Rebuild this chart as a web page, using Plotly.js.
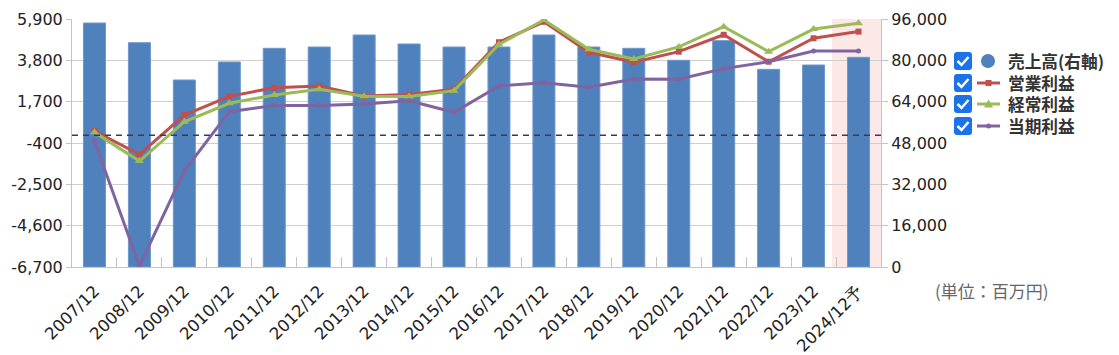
<!DOCTYPE html>
<html>
<head>
<meta charset="utf-8">
<script src="https://cdn.plot.ly/plotly-3.0.1.min.js"></script>
<style>html,body{margin:0;padding:0;background:#fff;}#chart{width:1119px;height:355px;}</style>
</head>
<body>
<div id="chart"></div>
<script>
// ---- data ----
const categories = ['2007/12','2008/12','2009/12','2010/12','2011/12','2012/12','2013/12','2014/12','2015/12','2016/12','2017/12','2018/12','2019/12','2020/12','2021/12','2022/12','2023/12','2024/12予'];
const sales      = [94450, 86830, 72390, 79360, 84650, 85160, 89810, 86320, 85160, 85160, 89810, 85160, 84650, 80010, 87610, 76520, 78190, 81160];
const opProfit   = [210, -980, 1020, 1970, 2410, 2500, 1990, 2070, 2330, 4720, 5760, 4210, 3700, 4240, 5100, 3730, 4920, 5260];
const ordProfit  = [140, -1320, 680, 1620, 2040, 2330, 1970, 1960, 2260, 4610, 5850, 4360, 3870, 4480, 5510, 4240, 5390, 5680];
const netProfit  = [-300, -6650, -1810, 1190, 1500, 1510, 1580, 1750, 1160, 2500, 2660, 2430, 2850, 2840, 3380, 3730, 4270, 4270];
const seriesNames = ['売上高(右軸)', '営業利益', '経常利益', '当期利益'];
const leftTickVals = [-6700, -4600, -2500, -400, 1700, 3800, 5900];
const leftTickText = ['-6,700', '-4,600', '-2,500', '-400', '1,700', '3,800', '5,900'];
const rightTickVals = [0, 16000, 32000, 48000, 64000, 80000, 96000];
const rightTickText = ['0', '16,000', '32,000', '48,000', '64,000', '80,000', '96,000'];
const unitLabel = '(単位：百万円)';

// ---- styling ----
const C_BAR = '#4f81bd', C_OP = '#c0504d', C_ORD = '#9bbb59', C_NET = '#8064a2';
const AX = '#c4c4c4';
const W = 1119, H = 355, L = 72, R = 881, T = 19, B = 267;
const px = x => (x - L) / (R - L);
const py = y => (B - y) / (B - T);

const traces = [
  {type: 'bar', x: categories, y: sales, xaxis: 'x', yaxis: 'y', name: seriesNames[0],
   marker: {color: C_BAR, line: {color: '#6f97cb', width: 1}}, width: 0.49, showlegend: false, hoverinfo: 'skip'},
  {type: 'scatter', mode: 'lines+markers', x: categories, y: opProfit, xaxis: 'x', yaxis: 'y2', name: seriesNames[1],
   line: {color: C_OP, width: 3}, marker: {symbol: 'square', size: 6, color: C_OP}, showlegend: false},
  {type: 'scatter', mode: 'lines+markers', x: categories, y: ordProfit, xaxis: 'x', yaxis: 'y2', name: seriesNames[2],
   line: {color: C_ORD, width: 3}, marker: {symbol: 'triangle-up', size: 8, color: C_ORD}, showlegend: false},
  {type: 'scatter', mode: 'lines+markers', x: categories, y: netProfit, xaxis: 'x', yaxis: 'y2', name: seriesNames[3],
   line: {color: C_NET, width: 3}, marker: {symbol: 'circle', size: 5, color: C_NET}, showlegend: false}
];

function rrect(x0, y0, x1, y1, r) {
  const p = (x, y) => px(x) + ',' + py(y);
  return 'M' + p(x0 + r, y0) + ' L' + p(x1 - r, y0) + ' Q' + p(x1, y0) + ' ' + p(x1, y0 + r) +
         ' L' + p(x1, y1 - r) + ' Q' + p(x1, y1) + ' ' + p(x1 - r, y1) +
         ' L' + p(x0 + r, y1) + ' Q' + p(x0, y1) + ' ' + p(x0, y1 - r) +
         ' L' + p(x0, y0 + r) + ' Q' + p(x0, y0) + ' ' + p(x0 + r, y0) + ' Z';
}

const shapes = [
  {type: 'rect', xref: 'paper', yref: 'paper', x0: px(832), x1: 1, y0: 0, y1: 1, fillcolor: '#fde8e8', line: {width: 0}, layer: 'below'},
  {type: 'line', xref: 'paper', yref: 'y2', x0: 0, x1: 1, y0: 0, y1: 0, line: {color: '#3d3659', width: 1.5, dash: '6px,5px'}}
];
const annotations = [
  {xref: 'paper', yref: 'paper', x: px(992), y: py(290), text: unitLabel, showarrow: false,
   xanchor: 'center', yanchor: 'middle', font: {family: 'Noto Sans CJK JP', size: 17, color: '#666'}}
];

const rows = [61, 83, 104, 126];
const legColors = [C_BAR, C_OP, C_ORD, C_NET];
rows.forEach((ry, i) => {
  // checkbox
  shapes.push({type: 'path', xref: 'paper', yref: 'paper', path: rrect(954, ry - 9, 972, ry + 9, 3),
               fillcolor: '#1a73e8', line: {width: 0}});
  shapes.push({type: 'path', xref: 'paper', yref: 'paper',
               path: 'M' + px(957.5) + ',' + py(ry) + ' L' + px(961.5) + ',' + py(ry + 4) + ' L' + px(968.5) + ',' + py(ry - 4),
               line: {color: '#ffffff', width: 2.5}});
  // symbol
  if (i === 0) {
    shapes.push({type: 'circle', xref: 'paper', yref: 'paper', x0: px(981), x1: px(995), y0: py(ry + 7), y1: py(ry - 7),
                 fillcolor: C_BAR, line: {width: 0}});
  } else {
    shapes.push({type: 'line', xref: 'paper', yref: 'paper', x0: px(977), x1: px(1000), y0: py(ry), y1: py(ry),
                 line: {color: legColors[i], width: 3}});
    if (i === 1) {
      shapes.push({type: 'rect', xref: 'paper', yref: 'paper', x0: px(985.5), x1: px(991.5), y0: py(ry + 3), y1: py(ry - 3),
                   fillcolor: C_OP, line: {width: 0}});
    } else if (i === 2) {
      shapes.push({type: 'path', xref: 'paper', yref: 'paper',
                   path: 'M' + px(984) + ',' + py(ry + 3.5) + ' L' + px(993) + ',' + py(ry + 3.5) + ' L' + px(988.5) + ',' + py(ry - 4.5) + ' Z',
                   fillcolor: C_ORD, line: {width: 0}});
    } else {
      shapes.push({type: 'circle', xref: 'paper', yref: 'paper', x0: px(986), x1: px(991), y0: py(ry + 2.5), y1: py(ry - 2.5),
                   fillcolor: C_NET, line: {width: 0}});
    }
  }
});
// legend labels: one multi-line text block (line pitch ≈ row pitch)
annotations.push({xref: 'paper', yref: 'paper', x: px(1007), y: py((rows[0] + rows[3]) / 2),
                  text: seriesNames.map(n => '<b>' + n + '</b>').join('<br>'),
                  showarrow: false, xanchor: 'left', yanchor: 'middle', align: 'left', borderpad: 0,
                  font: {family: 'Noto Sans CJK JP', size: 16.7, color: '#333'}});

const tickFont = {family: 'DejaVu Sans', size: 16, color: '#222'};
const layout = {
  width: W, height: H,
  margin: {l: L, r: W - R, t: T, b: H - B, pad: 0},
  paper_bgcolor: '#ffffff', plot_bgcolor: 'rgba(0,0,0,0)',
  showlegend: false,
  xaxis: {type: 'category', range: [-0.5, 17.5], showline: true, linecolor: AX, linewidth: 1,
          ticks: 'inside', tickson: 'boundaries', ticklen: 10, tickcolor: AX, tickangle: -45,
          ticklabelstandoff: 7,
          tickfont: {family: 'DejaVu Sans', size: 16.5, color: '#222'}, showgrid: false, zeroline: false, fixedrange: true},
  yaxis: {side: 'right', range: [0, 96000], tickvals: rightTickVals, ticktext: rightTickText,
          showgrid: true, gridcolor: '#cfcfcf', gridwidth: 1, showline: true, linecolor: AX,
          ticks: 'outside', ticklen: 6, tickcolor: AX, tickfont: tickFont, zeroline: false, fixedrange: true},
  yaxis2: {overlaying: 'y', side: 'left', range: [-6700, 5900], tickvals: leftTickVals, ticktext: leftTickText,
           showgrid: false, showline: true, linecolor: AX, ticks: 'outside', ticklen: 5, tickcolor: AX,
           tickfont: tickFont, zeroline: false, fixedrange: true},
  shapes: shapes,
  annotations: annotations
};

Plotly.newPlot('chart', traces, layout, {displayModeBar: false, staticPlot: true});
</script>
</body>
</html>
